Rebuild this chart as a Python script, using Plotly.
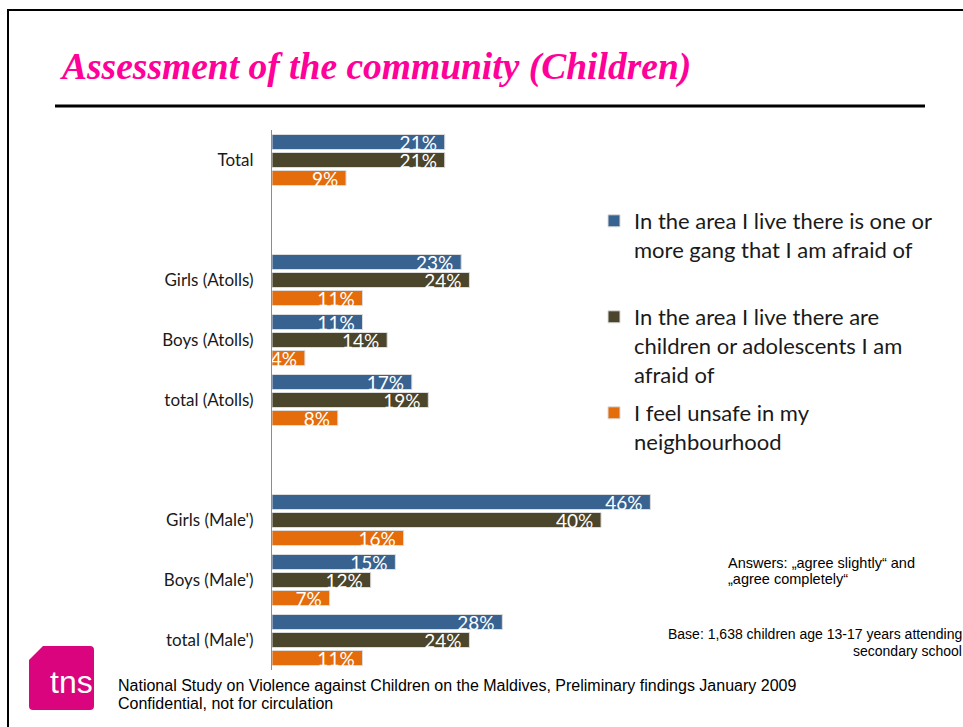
import plotly.graph_objects as go

# Categories (blank entries separate the three blocks of the chart)
categories = ["Total", " ", "Girls (Atolls)", "Boys (Atolls)", "total (Atolls)",
              "  ", "Girls (Male')", "Boys (Male')", "total (Male')"]

series_names = [
    "In the area I live there is one or<br>more gang that I am afraid of",
    "In the area I live there are<br>children or adolescents I am<br>afraid of",
    "I feel unsafe in my<br>neighbourhood",
]
gang_afraid = [21, None, 23, 11, 17, None, 46, 15, 28]
children_afraid = [21, None, 24, 14, 19, None, 40, 12, 24]
feel_unsafe = [9, None, 11, 4, 8, None, 16, 7, 11]
series_values = [gang_afraid, children_afraid, feel_unsafe]
series_colors = ["#386391", "#4B452C", "#E46C0A"]

# Page geometry (pixels) of the plotting area
W, H = 963, 727
PL, PT, PW, PH = 272, 130, 691, 540


def px(x):
    return (x - PL) / PW


def py(y):
    return (PT + PH - y) / PH


legend_ids = ["legend", "legend2", "legend3"]
legend_tops = [200, 296, 392]

fig = go.Figure()
for name, vals, col, lg in zip(series_names, series_values, series_colors, legend_ids):
    fig.add_trace(go.Bar(
        y=categories, x=vals, name=name, orientation="h",
        marker=dict(color=col, line=dict(color="#dcdcdc", width=1)),
        texttemplate="%{x}%\u00a0", textposition="inside", insidetextanchor="end",
        constraintext="none", cliponaxis=False,
        textfont=dict(color="white", size=19, family="Lato"),
        legend=lg, hoverinfo="skip",
    ))

shapes = [
    # page frame
    dict(type="rect", xref="paper", yref="paper", x0=px(8), x1=px(980), y0=py(10), y1=py(745),
         line=dict(color="black", width=2), fillcolor="rgba(0,0,0,0)", layer="below"),
    # rule under the title
    dict(type="line", xref="paper", yref="paper", x0=px(55), x1=px(925), y0=py(106), y1=py(106),
         line=dict(color="black", width=3)),
    # logo badge
    dict(type="path", xref="paper", yref="paper",
         path=(f"M {px(43)},{py(646)} L {px(90)},{py(646)} Q {px(94)},{py(646)} {px(94)},{py(650)} "
               f"L {px(94)},{py(706)} Q {px(94)},{py(710)} {px(90)},{py(710)} "
               f"L {px(33)},{py(710)} Q {px(29)},{py(710)} {px(29)},{py(706)} "
               f"L {px(29)},{py(660)} Z"),
         fillcolor="#D9047E", line=dict(width=0)),
]


def note(text, x, y, size, anchor="left", family="Liberation Sans"):
    return dict(text=text, xref="paper", yref="paper", x=px(x), y=py(y),
                xanchor=anchor, yanchor="middle", showarrow=False,
                font=dict(family=family, size=size, color="black"))


annotations = [
    dict(text="Assessment of the community (Children)", xref="paper", yref="paper",
         x=px(58), y=py(67), xanchor="left", yanchor="middle", showarrow=False,
         font=dict(family="Liberation Serif", size=37.5, color="#FF0099",
                   weight="bold", style="italic")),
    note("Answers: \u201eagree slightly\u201c and", 726, 563, 14.5),
    note("\u201eagree completely\u201c", 726, 579, 14.5),
    note("Base: 1,638 children age 13-17 years attending", 964, 634, 14, "right"),
    note("secondary school", 964, 651, 14, "right"),
    note("National Study on Violence against Children on the Maldives, Preliminary findings January 2009",
         116, 685, 16),
    note("Confidential, not for circulation", 116, 703, 16),
    dict(text="tns", xref="paper", yref="paper", x=px(71), y=py(682),
         xanchor="center", yanchor="middle", showarrow=False,
         font=dict(family="Liberation Sans", size=32, color="white")),
]

legend_style = dict(xanchor="left", yanchor="top", bgcolor="rgba(0,0,0,0)",
                    font=dict(family="Lato", size=22, color="#1a1a1a"),
                    valign="top", itemwidth=30)

fig.update_layout(
    width=W, height=H,
    margin=dict(l=PL, r=W - PL - PW, t=PT, b=H - PT - PH, pad=0),
    paper_bgcolor="white", plot_bgcolor="white",
    barmode="group", bargap=0.1, bargroupgap=0.167,
    font=dict(family="Lato", color="#1a1a1a"),
    showlegend=True,
    legend=dict(x=px(594), y=py(legend_tops[0]), **legend_style),
    legend2=dict(x=px(594), y=py(legend_tops[1]), **legend_style),
    legend3=dict(x=px(594), y=py(legend_tops[2]), **legend_style),
    shapes=shapes, annotations=annotations,
)
fig.update_xaxes(range=[0, 84], showgrid=False, zeroline=False, showticklabels=False,
                 showline=False, fixedrange=True)
fig.update_yaxes(categoryorder="array", categoryarray=categories, autorange="reversed",
                 showline=True, linecolor="#8c8c8c", linewidth=1, showgrid=False,
                 ticks="outside", ticklen=14, tickcolor="rgba(0,0,0,0)",
                 tickfont=dict(family="Lato", size=17, color="#1a1a1a"), fixedrange=True)

fig.write_html("out.html")
